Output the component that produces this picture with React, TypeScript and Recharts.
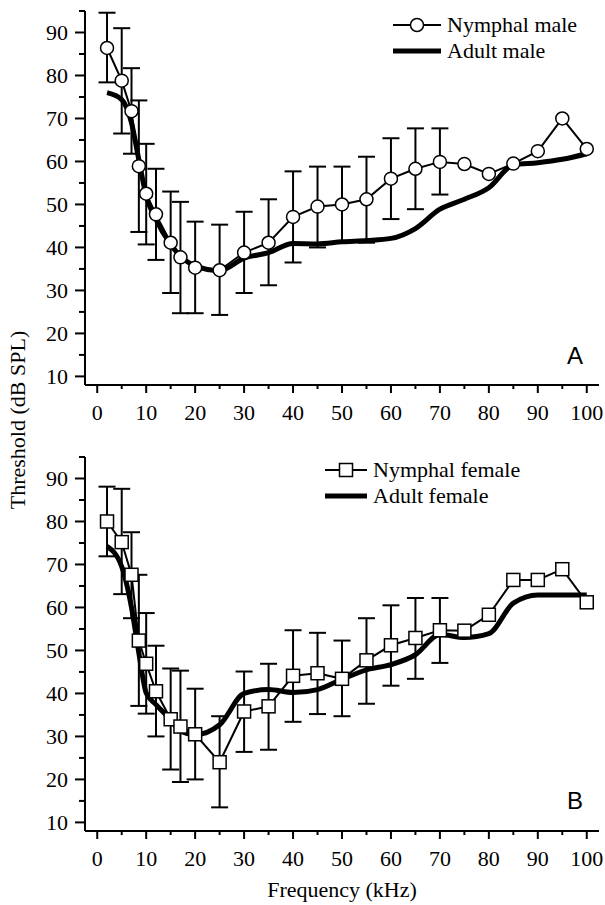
import React from 'react';
import { LineChart, Line, XAxis, YAxis, ErrorBar, Legend } from 'recharts';

// frequencies (kHz) shared by all four series
const freqs = [2, 5, 7, 8.5, 10, 12, 15, 17, 20, 25, 30, 35, 40, 45, 50, 55, 60, 65, 70, 75, 80, 85, 90, 95, 100];

// panel A - males
const nymphMale = [86.4, 78.8, 71.7, 58.9, 52.5, 47.7, 41.1, 37.7, 35.3, 34.7, 38.8, 41.1, 47.1, 49.5, 50, 51.2, 56, 58.3, 59.9, 59.4, 57.1, 59.5, 62.4, 70, 62.9];
const nymphMaleHi = [94.6, 91, 81.7, 74.2, 64.1, 58.3, 53, 50.6, 46, 45.3, 48.3, 51.2, 57.7, 58.8, 58.8, 61.1, 65.4, 67.7, 67.7];
const nymphMaleLo = [78.4, 66.5, 61.8, 43.6, 40.7, 37.1, 29.4, 24.7, 24.7, 24.3, 29.4, 31.2, 36.5, 40, 41.1, 41.1, 46.6, 48.9, 52.3];
const adultMale = [76, 74.4, 69, 60.4, 52, 46.5, 40.7, 38, 35.7, 34.6, 37.5, 38.8, 40.9, 40.8, 41.3, 41.6, 42.1, 44.4, 48.9, 51.2, 53.9, 59.2, 59.7, 60.5, 61.8];

// panel B - females
const nymphFemale = [80, 75.2, 67.6, 52.3, 46.9, 40.5, 34, 32.3, 30.5, 24, 35.8, 37, 44.1, 44.7, 43.4, 47.7, 51.2, 52.9, 54.7, 54.6, 58.3, 66.4, 66.4, 68.9, 61.2];
const nymphFemaleHi = [88.1, 87.6, 77.5, 67.6, 58.7, 51.1, 45.8, 45.3, 41.1, 34.7, 45.1, 46.9, 54.7, 54.1, 52.3, 57.5, 60.5, 62.2, 62.2];
const nymphFemaleLo = [71.9, 63.1, 57.5, 37.1, 35.3, 30, 22.3, 19.4, 20, 13.5, 26.4, 26.9, 33.4, 35.2, 34.7, 37.6, 41.8, 43.4, 47.1];
const adultFemale = [74.2, 69.5, 60, 49.4, 40.1, 37.4, 33.9, 31.2, 30.4, 32.7, 40, 40.9, 40.2, 40.9, 43.3, 45.5, 46.7, 49, 53.7, 53, 53.9, 61, 62.9, 62.9, 62.9];

const xTicks = [0, 5, 10, 15, 20, 25, 30, 35, 40, 45, 50, 55, 60, 65, 70, 75, 80, 85, 90, 95, 100];
const yTicks = [10, 15, 20, 25, 30, 35, 40, 45, 50, 55, 60, 65, 70, 75, 80, 85, 90, 95];

const FONT = "Liberation Serif, Tinos, Times New Roman, Times, DejaVu Serif, serif";

function buildRows(nymph: number[], hi: number[], lo: number[], adult: number[]) {
  return freqs.map((f, i) => ({
    freq: f,
    nymph: nymph[i],
    adult: adult[i],
    err: hi[i] != null ? [nymph[i] - lo[i], hi[i] - nymph[i]] : undefined,
  }));
}

const maleData = buildRows(nymphMale, nymphMaleHi, nymphMaleLo, adultMale);
const femaleData = buildRows(nymphFemale, nymphFemaleHi, nymphFemaleLo, adultFemale);

const YTick = (props: any) => {
  const { x, y, payload } = props;
  const major = payload.value % 10 === 0;
  return (
    <g>
      <line x1={x - (major ? 10 : 6)} x2={x} y1={y} y2={y} stroke="#000" strokeWidth={2} />
      {major && (
        <text x={x - 17} y={y} dy="0.36em" textAnchor="end" fontFamily={FONT} fontSize={22} fill="#000">
          {payload.value}
        </text>
      )}
    </g>
  );
};

const XTick = (props: any) => {
  const { x, y, payload } = props;
  const major = payload.value % 10 === 0;
  return (
    <g>
      <line x1={x} x2={x} y1={y} y2={y + (major ? 8 : 4)} stroke="#000" strokeWidth={2} />
      {major && (
        <text x={x} y={y + 35} textAnchor="middle" fontFamily={FONT} fontSize={22} fill="#000">
          {payload.value}
        </text>
      )}
    </g>
  );
};

const SquareDot = (props: any) => {
  const { cx, cy, index } = props;
  if (cx == null || cy == null) return null;
  return <rect key={index} x={cx - 6.5} y={cy - 6.5} width={13} height={13} fill="#fff" stroke="#000" strokeWidth={1.5} />;
};

const makeLegend = (square: boolean, nymphLabel: string, adultLabel: string, iconW: number) => () => (
  <div style={{ fontFamily: FONT, fontSize: 22, lineHeight: '26px', color: '#000' }}>
    <div style={{ display: 'flex', alignItems: 'center', height: 26 }}>
      <svg width={iconW} height={26} style={{ marginRight: 6 }}>
        <line x1={0} x2={iconW} y1={13} y2={13} stroke="#000" strokeWidth={2} />
        {square ? (
          <rect x={iconW / 2 - 6.5} y={6.5} width={13} height={13} fill="#fff" stroke="#000" strokeWidth={1.5} />
        ) : (
          <circle cx={iconW / 2} cy={13} r={6.5} fill="#fff" stroke="#000" strokeWidth={1.5} />
        )}
      </svg>
      <span>{nymphLabel}</span>
    </div>
    <div style={{ display: 'flex', alignItems: 'center', height: 26 }}>
      <svg width={iconW} height={26} style={{ marginRight: 6 }}>
        <line x1={0} x2={iconW} y1={13} y2={13} stroke="#000" strokeWidth={5} />
      </svg>
      <span>{adultLabel}</span>
    </div>
  </div>
);

type PanelProps = {
  data: any[];
  height: number;
  top: number;
  square: boolean;
  nymphLabel: string;
  adultLabel: string;
  legendPos: { left: number; top: number; iconW: number };
  letter: string;
  letterY: number;
  showXLabel: boolean;
};

const Panel: React.FC<PanelProps> = ({ data, height, top, square, nymphLabel, adultLabel, legendPos, letter, letterY, showXLabel }) => (
  <LineChart width={605} height={height} data={data} margin={{ top, right: 6, left: 0, bottom: 0 }}>
    <XAxis
      dataKey="freq"
      type="number"
      domain={[-2.5, 102.5]}
      ticks={xTicks}
      interval={0}
      height={height - top - 374}
      tickSize={0}
      tickMargin={0}
      tick={<XTick />}
      axisLine={{ stroke: '#000', strokeWidth: 2 }}
      label={
        showXLabel
          ? { value: 'Frequency (kHz)', position: 'insideBottom', offset: 8, fontFamily: FONT, fontSize: 22, fill: '#000' }
          : undefined
      }
    />
    <YAxis
      type="number"
      domain={[8, 95]}
      ticks={yTicks}
      interval={0}
      width={85}
      tickSize={0}
      tickMargin={0}
      tick={<YTick />}
      axisLine={{ stroke: '#000', strokeWidth: 2 }}
    />
    <Legend
      layout="vertical"
      align="center"
      verticalAlign="middle"
      wrapperStyle={{ position: 'absolute', left: legendPos.left, top: legendPos.top, width: 'auto', height: 'auto' }}
      content={makeLegend(square, nymphLabel, adultLabel, legendPos.iconW)}
    />
    <Line
      type="monotone"
      dataKey="adult"
      stroke="#000"
      strokeWidth={5}
      dot={false}
      activeDot={false}
      isAnimationActive={false}
    />
    <Line
      type="linear"
      dataKey="nymph"
      stroke="#000"
      strokeWidth={2}
      dot={square ? <SquareDot /> : { r: 6.5, fill: '#fff', stroke: '#000', strokeWidth: 1.5 }}
      activeDot={false}
      isAnimationActive={false}
    >
      <ErrorBar dataKey="err" width={8.5} stroke="#000" strokeWidth={2} direction="y" />
    </Line>
    <text x={575} y={letterY} textAnchor="middle" fontFamily="Liberation Sans, Arial, sans-serif" fontSize={24} fill="#000">
      {letter}
    </text>
  </LineChart>
);

const App: React.FC = () => (
  <div style={{ position: 'absolute', left: 0, top: 0, width: 605, height: 905, background: '#fff' }}>
    <Panel
      data={maleData}
      height={432}
      top={11}
      square={false}
      nymphLabel="Nymphal male"
      adultLabel="Adult male"
      legendPos={{ left: 393, top: 12, iconW: 48 }}
      letter="A"
      letterY={364}
      showXLabel={false}
    />
    <Panel
      data={femaleData}
      height={473}
      top={25}
      square={true}
      nymphLabel="Nymphal female"
      adultLabel="Adult female"
      legendPos={{ left: 325, top: 25, iconW: 42 }}
      letter="B"
      letterY={377}
      showXLabel={true}
    />
    <div
      style={{
        position: 'absolute',
        left: 18,
        top: 420,
        transform: 'translate(-50%, -50%) rotate(-90deg)',
        fontFamily: FONT,
        fontSize: 22,
        whiteSpace: 'nowrap',
        color: '#000',
      }}
    >
      Threshold (dB SPL)
    </div>
  </div>
);

export default App;
